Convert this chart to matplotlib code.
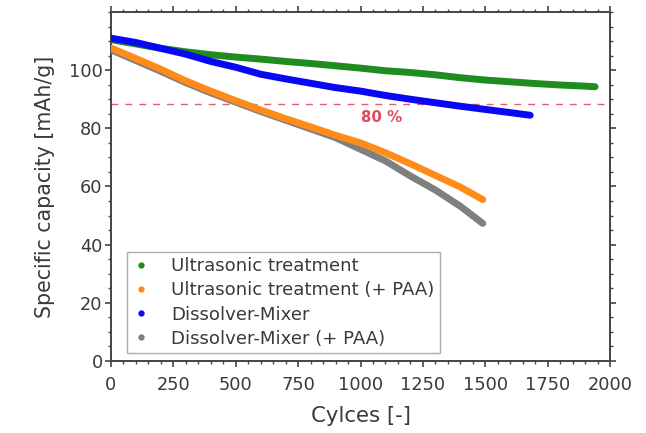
import matplotlib
matplotlib.use("Agg")
import matplotlib.pyplot as plt
from matplotlib.ticker import MultipleLocator
from matplotlib.lines import Line2D

plt.rcParams['font.family'] = ['DejaVu Sans']

# ---- data ----
cyc_us = [0, 100, 200, 300, 400, 500, 600, 700, 800, 900, 1000, 1100, 1200, 1300,
          1400, 1500, 1600, 1700, 1800, 1900, 1940]
cap_us = [110.5, 109.0, 107.5, 106.3, 105.3, 104.5, 103.8, 103.0, 102.3, 101.5, 100.7,
          99.8, 99.2, 98.4, 97.4, 96.6, 96.0, 95.4, 94.9, 94.5, 94.3]

cyc_us_paa = [0, 100, 200, 300, 400, 500, 600, 700, 800, 900, 1000, 1100, 1200, 1300,
              1400, 1490]
cap_us_paa = [107.6, 104.0, 100.3, 96.3, 92.8, 89.5, 86.3, 83.3, 80.5, 77.6, 75.0,
              71.6, 67.8, 63.8, 59.8, 55.5]

cyc_dm = [0, 100, 200, 300, 400, 500, 600, 700, 800, 900, 1000, 1100, 1200, 1300,
          1400, 1500, 1600, 1680]
cap_dm = [111.0, 109.5, 107.5, 105.5, 103.0, 101.0, 98.6, 97.0, 95.5, 94.0, 92.8,
          91.3, 90.0, 88.8, 87.6, 86.5, 85.4, 84.5]

cyc_dm_paa = [0, 100, 200, 300, 400, 500, 600, 700, 800, 900, 1000, 1100, 1200, 1300,
              1400, 1490]
cap_dm_paa = [107.0, 103.3, 99.6, 95.7, 92.2, 89.0, 85.8, 82.8, 79.8, 76.8, 72.8,
              68.8, 63.6, 58.8, 53.2, 47.3]

labels = ["Ultrasonic treatment", "Ultrasonic treatment (+ PAA)",
          "Dissolver-Mixer", "Dissolver-Mixer (+ PAA)"]
colors = ["#1e8c1e", "#ff8c1a", "#0808f4", "#7f7f7f"]

threshold = 88.2
threshold_label = "80 %"

# ---- figure ----
fig = plt.figure(figsize=(6.46, 4.33), dpi=100)
ax = fig.add_axes([0.1718, 0.1663, 0.7725, 0.806])

series = [(cyc_us, cap_us), (cyc_us_paa, cap_us_paa), (cyc_dm, cap_dm), (cyc_dm_paa, cap_dm_paa)]
order = [3, 1, 0, 2]
for i in order:
    x, y = series[i]
    ax.plot(x, y, color=colors[i], lw=5.0, solid_capstyle='round',
            solid_joinstyle='round', zorder=3 + (1 if i == 1 else 0))

ax.axhline(threshold, color="#e0606e", lw=1.0, ls=(0, (5, 5)), zorder=2)
ax.text(1086, 83.8, threshold_label, color="#e04a5a", fontsize=10.8,
        fontweight='bold', ha='center', va='center')

ax.set_xlim(0, 2000)
ax.set_ylim(0, 120)
ax.set_xticks([0, 250, 500, 750, 1000, 1250, 1500, 1750, 2000])
ax.set_yticks([0, 20, 40, 60, 80, 100])
ax.xaxis.set_minor_locator(MultipleLocator(50))
ax.yaxis.set_minor_locator(MultipleLocator(5))

for s in ax.spines.values():
    s.set_color("#444444")
    s.set_linewidth(1.4)

ax.tick_params(axis='both', which='major', direction='out', length=4, width=1.2,
               color="#444444", labelcolor="#3a3a3a", labelsize=12.8)
ax.tick_params(axis='x', which='major', pad=6.5)
ax.tick_params(axis='y', which='major', pad=2)
ax.tick_params(axis='both', which='minor', direction='out', length=2.5, width=1.0,
               color="#444444")
ax.tick_params(which='both', top=True, right=True)

ax.set_xlabel("Cylces [-]", fontsize=15.3, color="#3a3a3a", labelpad=9)
ax.set_ylabel("Specific capacity [mAh/g]", fontsize=14.8, color="#3a3a3a", labelpad=10)

handles = [Line2D([], [], ls='none', marker='o', markersize=3.5, color=c) for c in colors]
leg = ax.legend(handles, labels, loc='lower left', bbox_to_anchor=(0.032, 0.023),
                fontsize=13.1, frameon=True, fancybox=False, borderpad=0.3,
                handlelength=0.93, handletextpad=1.2, labelspacing=0.33,
                labelcolor="#3a3a3a", borderaxespad=0)
leg.get_frame().set_edgecolor("#999999")
leg.get_frame().set_linewidth(1.0)

fig.savefig("out.png", dpi=100)
